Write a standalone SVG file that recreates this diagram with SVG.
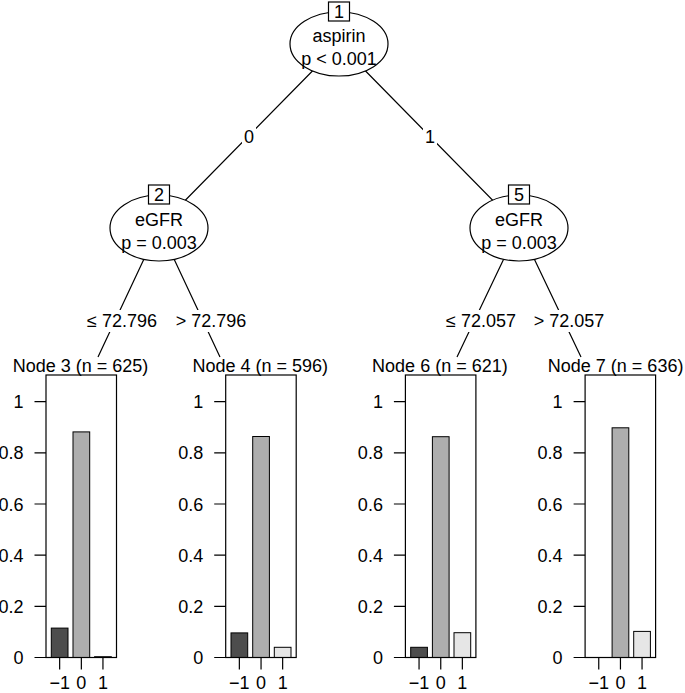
<svg xmlns="http://www.w3.org/2000/svg" width="685" height="693" viewBox="0 0 685 693">
<style>
text{font-family:"Liberation Sans",Arial,Helvetica,sans-serif;font-size:18px;fill:#000}
.m{text-anchor:middle}
.r{text-anchor:end}
.e{stroke:#000;stroke-width:1.2;fill:none}
.lb{fill:#fff;stroke:none}
.el{fill:#fff;stroke:#000;stroke-width:1.2}
.bx{fill:#fff;stroke:#000;stroke-width:1.2}
.pn{fill:none;stroke:#000;stroke-width:1.2}
.ax{fill:none;stroke:#000;stroke-width:1.2}
.b1{fill:#4d4d4d;stroke:#000;stroke-width:1}
.b2{fill:#aeaeae;stroke:#000;stroke-width:1}
.b3{fill:#e6e6e6;stroke:#000;stroke-width:1}
</style>
<g id="connectors">
<path class="e" d="M339 44L159 227M339 44L519 227M159 227L98 357M159 227L220 357M519 227L457 357M519 227L581 357"/>
<rect class="lb" x="242" y="126" width="14" height="22"/>
<text class="m" x="249" y="143">0</text>
<rect class="lb" x="423" y="126" width="14" height="22"/>
<text class="m" x="430" y="143">1</text>
<rect class="lb" x="85" y="310" width="74" height="22"/>
<text class="m" x="122" y="327">≤ 72.796</text>
<rect class="lb" x="174" y="310" width="74" height="22"/>
<text class="m" x="211" y="327">&gt; 72.796</text>
<rect class="lb" x="444" y="310" width="74" height="22"/>
<text class="m" x="481" y="327">≤ 72.057</text>
<rect class="lb" x="532" y="310" width="74" height="22"/>
<text class="m" x="569" y="327">&gt; 72.057</text>
</g>
<g id="node1">
<ellipse class="el" cx="339" cy="44" rx="49" ry="32"/>
<rect class="bx" x="328.5" y="2" width="21" height="19"/>
<text class="m" x="339" y="18">1</text>
<text class="m" x="339" y="42">aspirin</text>
<text class="m" x="339" y="65">p &lt; 0.001</text>
</g>
<g id="node2">
<ellipse class="el" cx="159" cy="228" rx="49" ry="33"/>
<rect class="bx" x="148.5" y="185" width="21" height="19"/>
<text class="m" x="159" y="201">2</text>
<text class="m" x="159" y="226">eGFR</text>
<text class="m" x="159" y="249">p = 0.003</text>
</g>
<g id="node5">
<ellipse class="el" cx="519" cy="228" rx="49" ry="33"/>
<rect class="bx" x="508.5" y="185" width="21" height="19"/>
<text class="m" x="519" y="201">5</text>
<text class="m" x="519" y="226">eGFR</text>
<text class="m" x="519" y="249">p = 0.003</text>
</g>
<g id="node3" transform="translate(46,0)">
<text class="m" x="34.5" y="371.5">Node 3 (n = 625)</text>
<rect class="b1" x="5.3" y="628.1" width="16.7" height="29.4"/>
<rect class="b2" x="27" y="431.9" width="16.7" height="225.6"/>
<rect class="b3" x="48.6" y="656.7" width="16.7" height="0.8"/>
<rect class="pn" x="0" y="375" width="70.5" height="282.5"/>
<path class="ax" d="M-11.5 657.5H0M-11.5 606.3H0M-11.5 555.2H0M-11.5 504H0M-11.5 452.9H0M-11.5 401.7H0M13.65 657.5V669.5M35.35 657.5V669.5M56.95 657.5V669.5"/>
<text class="r" x="-22.5" y="664">0</text>
<text class="r" x="-22.5" y="612.8">0.2</text>
<text class="r" x="-22.5" y="561.7">0.4</text>
<text class="r" x="-22.5" y="510.5">0.6</text>
<text class="r" x="-22.5" y="459.4">0.8</text>
<text class="r" x="-22.5" y="408.2">1</text>
<text class="m" x="13.65" y="689">−1</text>
<text class="m" x="35.35" y="689">0</text>
<text class="m" x="56.95" y="689">1</text>
</g>
<g id="node4" transform="translate(225.7,0)">
<text class="m" x="34.5" y="371.5">Node 4 (n = 596)</text>
<rect class="b1" x="5.3" y="632.9" width="16.7" height="24.6"/>
<rect class="b2" x="27" y="436.5" width="16.7" height="221"/>
<rect class="b3" x="48.6" y="647.3" width="16.7" height="10.2"/>
<rect class="pn" x="0" y="375" width="70.5" height="282.5"/>
<path class="ax" d="M-11.5 657.5H0M-11.5 606.3H0M-11.5 555.2H0M-11.5 504H0M-11.5 452.9H0M-11.5 401.7H0M13.65 657.5V669.5M35.35 657.5V669.5M56.95 657.5V669.5"/>
<text class="r" x="-22.5" y="664">0</text>
<text class="r" x="-22.5" y="612.8">0.2</text>
<text class="r" x="-22.5" y="561.7">0.4</text>
<text class="r" x="-22.5" y="510.5">0.6</text>
<text class="r" x="-22.5" y="459.4">0.8</text>
<text class="r" x="-22.5" y="408.2">1</text>
<text class="m" x="13.65" y="689">−1</text>
<text class="m" x="35.35" y="689">0</text>
<text class="m" x="56.95" y="689">1</text>
</g>
<g id="node6" transform="translate(405.4,0)">
<text class="m" x="34.5" y="371.5">Node 6 (n = 621)</text>
<rect class="b1" x="5.3" y="647.3" width="16.7" height="10.2"/>
<rect class="b2" x="27" y="436.7" width="16.7" height="220.8"/>
<rect class="b3" x="48.6" y="632.7" width="16.7" height="24.8"/>
<rect class="pn" x="0" y="375" width="70.5" height="282.5"/>
<path class="ax" d="M-11.5 657.5H0M-11.5 606.3H0M-11.5 555.2H0M-11.5 504H0M-11.5 452.9H0M-11.5 401.7H0M13.65 657.5V669.5M35.35 657.5V669.5M56.95 657.5V669.5"/>
<text class="r" x="-22.5" y="664">0</text>
<text class="r" x="-22.5" y="612.8">0.2</text>
<text class="r" x="-22.5" y="561.7">0.4</text>
<text class="r" x="-22.5" y="510.5">0.6</text>
<text class="r" x="-22.5" y="459.4">0.8</text>
<text class="r" x="-22.5" y="408.2">1</text>
<text class="m" x="13.65" y="689">−1</text>
<text class="m" x="35.35" y="689">0</text>
<text class="m" x="56.95" y="689">1</text>
</g>
<g id="node7" transform="translate(585.1,0)">
<text class="m" x="30.5" y="371.5">Node 7 (n = 636)</text>
<rect class="b2" x="27" y="427.8" width="16.7" height="229.7"/>
<rect class="b3" x="48.6" y="631.4" width="16.7" height="26.1"/>
<rect class="pn" x="0" y="375" width="70.5" height="282.5"/>
<path class="ax" d="M-11.5 657.5H0M-11.5 606.3H0M-11.5 555.2H0M-11.5 504H0M-11.5 452.9H0M-11.5 401.7H0M13.65 657.5V669.5M35.35 657.5V669.5M56.95 657.5V669.5"/>
<text class="r" x="-22.5" y="664">0</text>
<text class="r" x="-22.5" y="612.8">0.2</text>
<text class="r" x="-22.5" y="561.7">0.4</text>
<text class="r" x="-22.5" y="510.5">0.6</text>
<text class="r" x="-22.5" y="459.4">0.8</text>
<text class="r" x="-22.5" y="408.2">1</text>
<text class="m" x="13.65" y="689">−1</text>
<text class="m" x="35.35" y="689">0</text>
<text class="m" x="56.95" y="689">1</text>
</g>
</svg>
